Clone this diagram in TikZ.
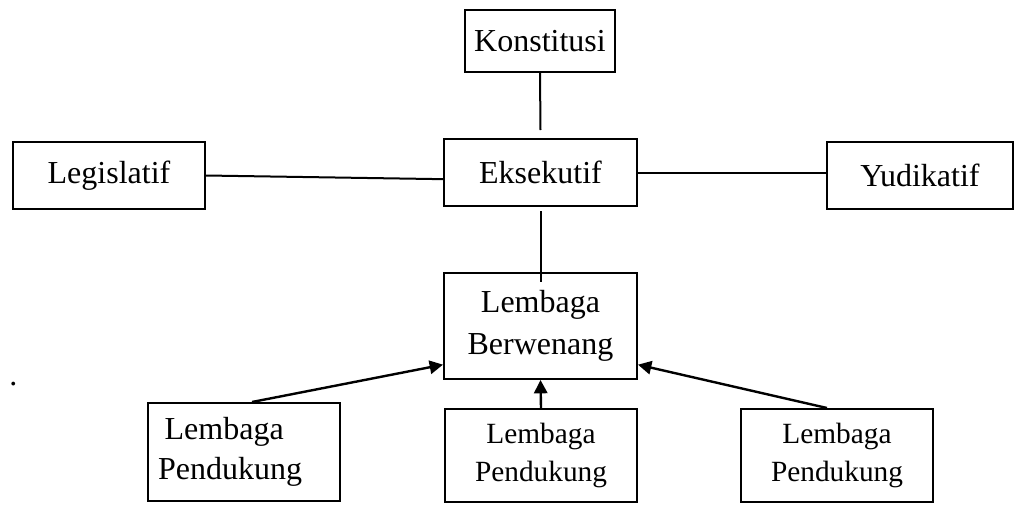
\documentclass[tikz,border=0pt]{standalone}
\usepackage{fontspec}
\setmainfont{Liberation Serif}
\usetikzlibrary{arrows.meta}
\begin{document}
\begin{tikzpicture}[x=0.75pt,y=-0.75pt,
  box/.style={draw,line width=1.5pt,inner sep=0pt,font=\fontsize{24}{29}\selectfont},
  twoline/.style={box,align=center,font=\fontsize{24}{31.5}\selectfont},
  small/.style={box,align=center,font=\fontsize{22}{29}\selectfont},
  link/.style={line width=1.5pt},
  arr/.style={line width=1.8pt,-{Triangle[length=10pt,width=10pt]}}]
\useasboundingbox (0,0) rectangle (1015,504);
\node[box,minimum width=112.5pt,minimum height=46.5pt] (kon) at (540,41) {Konstitusi};
\node[box,minimum width=144.75pt,minimum height=50.25pt] (eks) at (540.5,172.5) {Eksekutif};
\node[box,minimum width=144pt,minimum height=50.25pt] (leg) at (109,175.5) {Legislatif};
\node[box,minimum width=139.5pt,minimum height=50.25pt] (yud) at (920,175.5) {Yudikatif};
\node[twoline,minimum width=144.75pt,minimum height=79.5pt] (lb) at (540.5,326) {Lembaga\\Berwenang};
\node[box,minimum width=144pt,minimum height=73.5pt,align=left,text width=129pt,inner xsep=7.5pt,font=\fontsize{24}{30}\selectfont] (lp1) at (244,452) {\hspace*{5pt}Lembaga\\Pendukung};
\node[small,minimum width=144pt,minimum height=69.75pt] (lp2) at (541,455.5) {Lembaga\\Pendukung};
\node[small,minimum width=144pt,minimum height=69.75pt] (lp3) at (837,455.5) {Lembaga\\Pendukung};
\node[anchor=base west,inner sep=0pt,font=\fontsize{24}{29}\selectfont] (dot) at (9,385) {.};
\draw[link] (kon.south) -- ([yshift=6pt]eks.north);
\draw[link] (leg.east) -- ([yshift=-5pt]eks.west);
\draw[link] (eks.east) -- (eks.east -| yud.west);
\draw[link] ([yshift=-3pt]eks.south) -- ([yshift=-7.5pt]lb.north);
\draw[arr] ([xshift=6pt]lp1.north) -- ([yshift=-29pt]lb.west);
\draw[arr] (lp2.north) -- (lb.south);
\draw[arr] ([xshift=-7.5pt]lp3.north) -- ([yshift=-29pt]lb.east);
\end{tikzpicture}
\end{document}
